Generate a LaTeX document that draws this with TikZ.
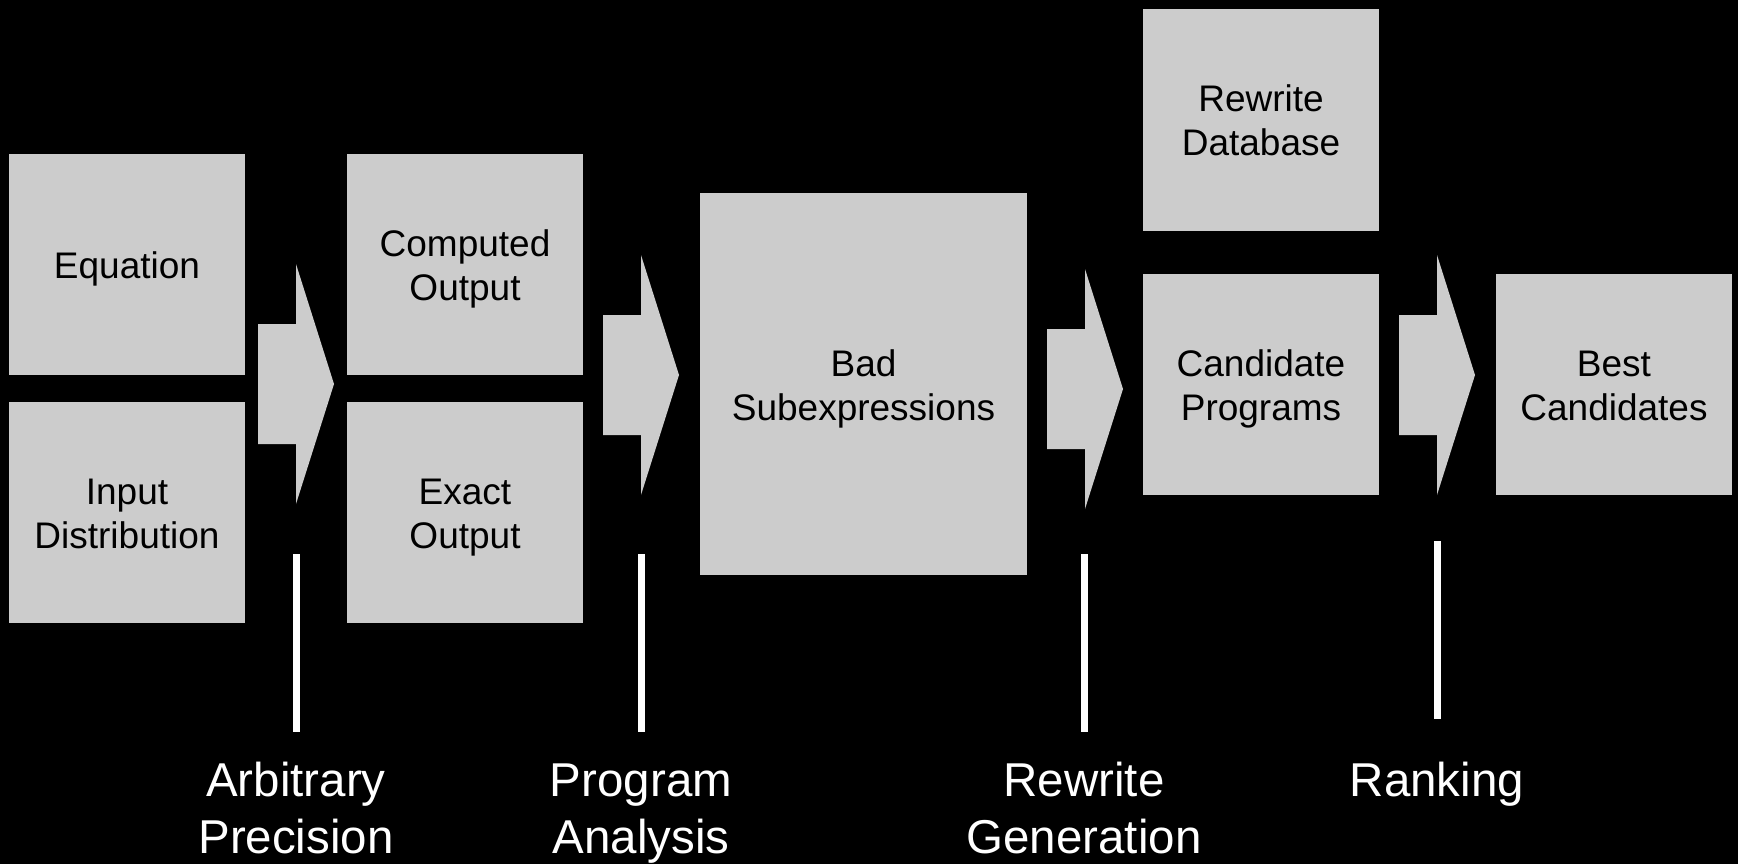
\documentclass[tikz,border=0pt]{standalone}
\usepackage{fontspec}
\setmainfont{Liberation Sans}
\definecolor{boxgray}{HTML}{CCCCCC}
\tikzset{
  box/.style={fill=boxgray, inner sep=0pt, align=center, text=black,
    font=\fontsize{37}{44}\selectfont},
  oneline/.style={text height=36pt, text depth=8pt},
  twoline/.style={text height=80pt, text depth=8pt},
  stdbox/.style={box, minimum width=236pt, minimum height=221pt},
  stageline/.style={draw=white, line width=7pt},
  stagelabel/.style={text=white, align=center, inner sep=0pt,
    font=\fontsize{47.5}{57}\selectfont},
  blockarrow/.pic={\fill[boxgray] (-38,-60) -- (0,-60) -- (0,-120) -- (38,0) -- (0,120) -- (0,60) -- (-38,60) -- cycle;}
}
\begin{document}
\begin{tikzpicture}[x=1pt,y=-1pt]
\fill[black] (0,0) rectangle (1738,864);
\useasboundingbox (0,0) rectangle (1738,864);
% boxes
\node[stdbox, oneline] (eq) at (127,264.5) {Equation};
\node[stdbox, twoline] (inp) at (127,512) {Input\\Distribution};
\node[stdbox, twoline] (comp) at (465,264.5) {Computed\\Output};
\node[stdbox, twoline] (exact) at (465,512) {Exact\\Output};
\node[box, twoline, minimum width=327pt, minimum height=382pt] (bad) at (863.5,384) {Bad\\Subexpressions};
\node[stdbox, twoline] (db) at (1261,120) {Rewrite\\Database};
\node[stdbox, twoline] (cand) at (1261,384) {Candidate\\Programs};
\node[stdbox, twoline] (best) at (1614,384) {Best\\Candidates};
% block arrows
\pic at (296,384) {blockarrow};
\pic at (641,375) {blockarrow};
\pic at (1085,389) {blockarrow};
\pic at (1437,375) {blockarrow};
% stage lines
\coordinate (s1t) at (296,554); \coordinate (s1b) at (296,731.5);
\coordinate (s2t) at (641,554); \coordinate (s2b) at (641,731.5);
\coordinate (s3t) at (1084,554); \coordinate (s3b) at (1084,731.5);
\coordinate (s4t) at (1437,541); \coordinate (s4b) at (1437,719);
\draw[stageline] (s1t) -- (s1b);
\draw[stageline] (s2t) -- (s2b);
\draw[stageline] (s3t) -- (s3b);
\draw[stageline] (s4t) -- (s4b);
% stage labels
\node[stagelabel, anchor=base] (l1) at (296,853) {Arbitrary\\Precision};
\node[stagelabel, anchor=base] (l2) at (641,853) {Program\\Analysis};
\node[stagelabel, anchor=base] (l3) at (1084,853) {Rewrite\\Generation};
\node[stagelabel, anchor=base] (l4) at (1437,796) {Ranking};
\end{tikzpicture}
\end{document}
